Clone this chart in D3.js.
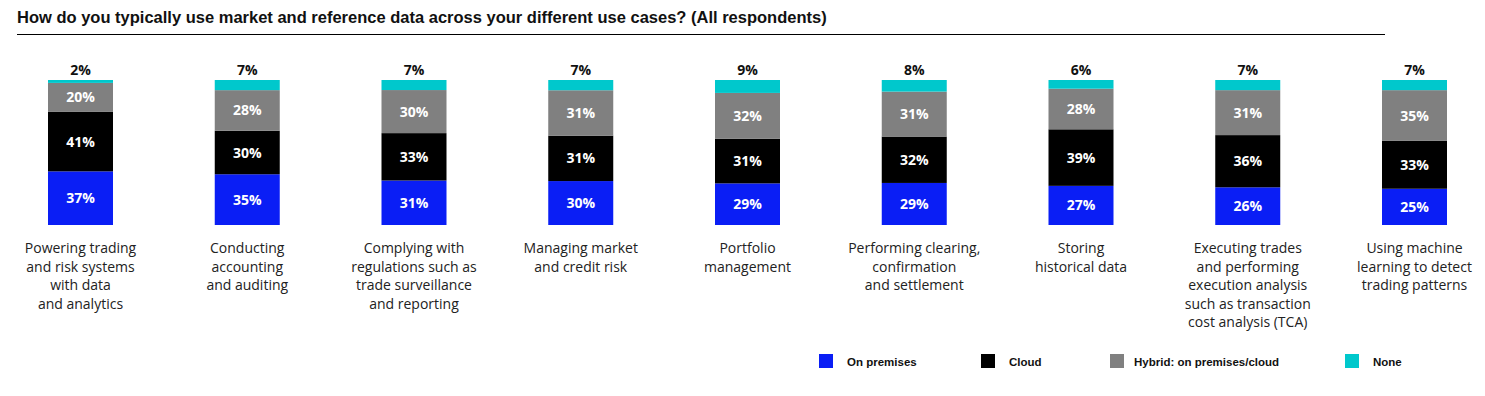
<!DOCTYPE html>
<html>
<head>
<meta charset="utf-8">
<script src="https://cdn.jsdelivr.net/npm/d3@7"></script>
<style>
  body { margin: 0; background: #fff; }
  #chart { width: 1485px; height: 396px; }
</style>
</head>
<body>
<div id="chart"></div>
<script>
const categories = [
    ["Powering trading", "and risk systems", "with data", "and analytics"],
    ["Conducting", "accounting", "and auditing"],
    ["Complying with", "regulations such as", "trade surveillance", "and reporting"],
    ["Managing market", "and credit risk"],
    ["Portfolio", "management"],
    ["Performing clearing,", "confirmation", "and settlement"],
    ["Storing", "historical data"],
    ["Executing trades", "and performing", "execution analysis", "such as transaction", "cost analysis (TCA)"],
    ["Using machine", "learning to detect", "trading patterns"]
];
const onPremises = [37, 35, 31, 30, 29, 29, 27, 26, 25];
const cloud      = [41, 30, 33, 31, 31, 32, 39, 36, 33];
const hybrid     = [20, 28, 30, 31, 32, 31, 28, 31, 35];
const none       = [2, 7, 7, 7, 9, 8, 6, 7, 7];

const seriesNames = ["On premises", "Cloud", "Hybrid: on premises/cloud", "None"];
const seriesKeys = ["onPremises", "cloud", "hybrid", "none"];
const colors = ["#0a1ef5", "#000000", "#808080", "#00c8cc"];

const width = 1485, height = 396;
const svg = d3.select("#chart").append("svg")
    .attr("width", width)
    .attr("height", height);

// title + rule
svg.append("text")
    .attr("x", 17)
    .attr("y", 23)
    .style("font-family", "Liberation Sans, Arial, sans-serif")
    .style("font-weight", "bold")
    .style("font-size", "16.5px")
    .style("fill", "#111")
    .text("How do you typically use market and reference data across your different use cases? (All respondents)");

svg.append("line")
    .attr("x1", 17).attr("x2", 1385)
    .attr("y1", 34.5).attr("y2", 34.5)
    .attr("stroke", "#000")
    .attr("stroke-width", 1);

const data = categories.map((c, i) => ({
    idx: i,
    onPremises: onPremises[i],
    cloud: cloud[i],
    hybrid: hybrid[i],
    none: none[i]
}));

// normalize each bar to 100% so all stacks share the same height
const stacked = d3.stack()
    .keys(seriesKeys)
    .offset(d3.stackOffsetExpand)(data);

const x = d3.scalePoint()
    .domain(d3.range(categories.length))
    .range([80.5, 1414.5]);
const barW = 65;

const y = d3.scaleLinear()
    .domain([0, 1])
    .range([225, 80]);

const layer = svg.selectAll("g.layer")
    .data(stacked)
    .join("g")
    .attr("class", "layer")
    .attr("fill", (d, i) => colors[i]);

layer.selectAll("rect")
    .data(d => d)
    .join("rect")
    .attr("x", d => x(d.data.idx) - barW / 2)
    .attr("width", barW)
    .attr("y", d => y(d[1]))
    .attr("height", d => y(d[0]) - y(d[1]));

// value labels inside bars (first three series), None above the bar
stacked.forEach((s, si) => {
    svg.append("g").selectAll("text")
        .data(s)
        .join("text")
        .attr("x", d => x(d.data.idx))
        .attr("y", d => si < 3 ? (y(d[0]) + y(d[1])) / 2 : y(1) - 5)
        .attr("dy", si < 3 ? "0.36em" : null)
        .attr("text-anchor", "middle")
        .style("font-family", "'Open Sans', sans-serif")
        .style("font-weight", "bold")
        .style("font-size", "14px")
        .style("fill", si < 3 ? "#fff" : "#111")
        .text(d => d.data[seriesKeys[si]] + "%");
});

// category labels
const catG = svg.append("g")
    .selectAll("text")
    .data(categories)
    .join("text")
    .attr("x", (d, i) => x(i))
    .attr("y", 253)
    .attr("text-anchor", "middle")
    .style("font-family", "'Open Sans', sans-serif")
    .style("font-size", "14px")
    .style("fill", "#222");

catG.selectAll("tspan")
    .data(d => d)
    .join("tspan")
    .attr("x", function() { return d3.select(this.parentNode).attr("x"); })
    .attr("dy", (d, i) => i === 0 ? 0 : 18.5)
    .text(d => d);

// legend
const legendX = [819, 981, 1110, 1345];
const legend = svg.append("g")
    .selectAll("g")
    .data(seriesNames)
    .join("g")
    .attr("transform", (d, i) => `translate(${legendX[i]},354)`);

legend.append("rect")
    .attr("width", 14)
    .attr("height", 14)
    .attr("fill", (d, i) => colors[i]);

legend.append("text")
    .attr("x", (d, i) => i === 2 ? 24 : 28)
    .attr("y", 11.5)
    .style("font-family", "Liberation Sans, Arial, sans-serif")
    .style("font-weight", "bold")
    .style("font-size", "11.5px")
    .style("fill", "#111")
    .text(d => d);
</script>
</body>
</html>
